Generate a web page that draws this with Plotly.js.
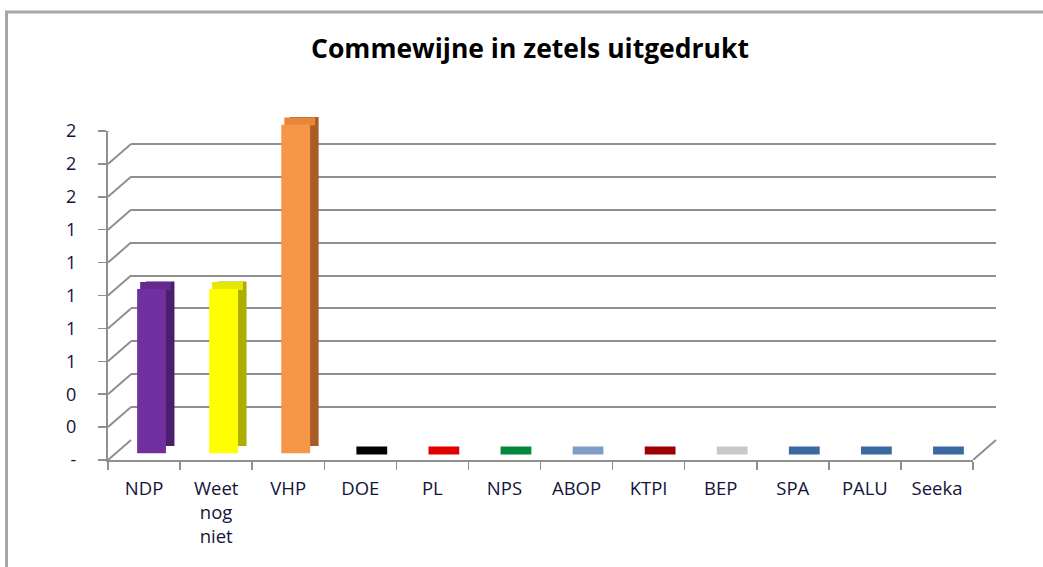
<!DOCTYPE html>
<html>
<head>
<meta charset="utf-8">
<script src="https://cdn.plot.ly/plotly-3.0.1.min.js"></script>
<style>html,body{margin:0;padding:0;background:#fff}#chart{width:1043px;height:567px}</style>
</head>
<body>
<div id="chart"></div>
<script>
// ---- data ----
const categories = ["NDP", "Weet nog niet", "VHP", "DOE", "PL", "NPS", "ABOP", "KTPI", "BEP", "SPA", "PALU", "Seeka"];
const categoryLabels = ["NDP", "Weet<br>nog<br>niet", "VHP", "DOE", "PL", "NPS", "ABOP", "KTPI", "BEP", "SPA", "PALU", "Seeka"];
const seats = [1, 1, 2, 0, 0, 0, 0, 0, 0, 0, 0, 0];
const yTickValues = [0, 0.2, 0.4, 0.6, 0.8, 1.0, 1.2, 1.4, 1.6, 1.8, 2.0];
const yTickLabels = ["-", "0", "0", "1", "1", "1", "1", "1", "2", "2", "2"];
const frontColors = ["#7030a0", "#ffff00", "#f79646", "#000000", "#e00000", "#00893c", "#7f9dc8", "#9c0000", "#c8c8c8", "#3a68a0", "#3a68a0", "#3a68a0"];
const topColors   = ["#62298f", "#e6e600", "#e8873c", "#000000", "#e00000", "#00893c", "#7f9dc8", "#9c0000", "#c8c8c8", "#3a68a0", "#3a68a0", "#3a68a0"];
const sideColors  = ["#4a1f6c", "#adad00", "#a85c27", "#000000", "#900000", "#005c28", "#56739a", "#680000", "#8c8c8c", "#274a75", "#274a75", "#274a75"];
const titleText = "Commewijne in zetels uitgedrukt";

// ---- geometry (pixels) ----
const W = 1043, H = 567;
const FRONT = {x0: 108, x1: 973, yBase: 460, yTop: 131};
const gridColor = "#8f8f8f";
function dom(dx, dy) {
  return {
    x: [(FRONT.x0 + dx) / W, (FRONT.x1 + dx) / W],
    y: [1 - (FRONT.yBase + dy) / H, 1 - (FRONT.yTop + dy) / H]
  };
}
const dBack = dom(23, -20);
const dSide = dom(16, -14);
const dTop = dom(11.5, -9.5);
const dFace = dom(7.5, -6.5);
const dFront = dom(0, 0);

const hiddenCat = d => ({domain: d, type: "category", categoryorder: "array", categoryarray: categories,
  range: [-0.5, categories.length - 0.5], visible: false, fixedrange: true});
const hiddenY = d => ({domain: d, range: [0, 2], visible: false, fixedrange: true});

const traces = [
  {type: "scatter", mode: "markers", x: categories, y: seats, xaxis: "x", yaxis: "y",
   marker: {opacity: 0}, hoverinfo: "skip", showlegend: false},
  {type: "bar", x: categories, y: seats, xaxis: "x2", yaxis: "y2", width: 0.4,
   marker: {color: sideColors, line: {width: 0}}, hoverinfo: "skip", showlegend: false},
  {type: "scatter", mode: "markers", x: categories, y: seats, xaxis: "x3", yaxis: "y3", cliponaxis: false,
   marker: {symbol: "line-ew", size: 22, color: topColors, line: {width: 8, color: topColors}},
   hoverinfo: "skip", showlegend: false},
  {type: "bar", x: categories, y: seats, xaxis: "x4", yaxis: "y4", width: 0.4,
   marker: {color: frontColors, line: {width: 0}}, hoverinfo: "skip", showlegend: false},
  {type: "scatter", mode: "markers", x: categories, y: seats, xaxis: "x5", yaxis: "y5",
   marker: {opacity: 0}, hoverinfo: "skip", showlegend: false}
];

const shapes = yTickValues.map(v => ({
  type: "line", layer: "below", xref: "paper", yref: "y5",
  xsizemode: "pixel", xanchor: FRONT.x0 / W, x0: 0, x1: 23,
  ysizemode: "pixel", yanchor: v, y0: 0, y1: 20,
  line: {color: gridColor, width: 2}
}));
shapes.push({
  type: "line", layer: "below", xref: "paper", yref: "y5",
  xsizemode: "pixel", xanchor: FRONT.x1 / W, x0: 0, x1: 23,
  ysizemode: "pixel", yanchor: 0, y0: 0, y1: 20,
  line: {color: gridColor, width: 2}
});
shapes.push({
  type: "rect", xref: "paper", yref: "paper",
  x0: 6.5 / W, x1: 1.05, y0: -0.05, y1: 1 - 12 / H,
  line: {color: "#a6a6a6", width: 3}, fillcolor: "rgba(0,0,0,0)"
});

const layout = {
  width: W, height: H,
  margin: {l: 0, r: 0, t: 0, b: 0, pad: 0},
  paper_bgcolor: "#ffffff", plot_bgcolor: "rgba(0,0,0,0)",
  showlegend: false,
  font: {family: "Open Sans, Liberation Sans, sans-serif", color: "#1a1a1a"},
  title: {text: titleText, font: {family: "Open Sans", size: 26.5, color: "#000000", weight: 700},
          x: 530 / W, xref: "paper", xanchor: "center", y: 1 - 49 / H, yref: "container", yanchor: "middle"},
  xaxis: {domain: dBack.x, type: "category", categoryorder: "array", categoryarray: categories,
          range: [-0.5, categories.length - 0.5], showgrid: false, zeroline: false, showline: false,
          showticklabels: false, ticks: "", fixedrange: true, anchor: "y"},
  yaxis: {domain: dBack.y, range: [-0.002, 2.002], tickvals: yTickValues, showgrid: true,
          gridcolor: gridColor, gridwidth: 2, zeroline: false, showline: false,
          showticklabels: false, ticks: "", fixedrange: true, anchor: "x"},
  xaxis2: Object.assign(hiddenCat(dSide.x), {anchor: "y2"}),
  yaxis2: Object.assign(hiddenY(dSide.y), {anchor: "x2"}),
  xaxis3: Object.assign(hiddenCat(dTop.x), {anchor: "y3"}),
  yaxis3: Object.assign(hiddenY(dTop.y), {anchor: "x3"}),
  xaxis4: Object.assign(hiddenCat(dFace.x), {anchor: "y4"}),
  yaxis4: Object.assign(hiddenY(dFace.y), {anchor: "x4"}),
  xaxis5: {domain: dFront.x, anchor: "y5", type: "category", categoryorder: "array", categoryarray: categories,
           range: [-0.5, categories.length - 0.5], showgrid: false, zeroline: false,
           showline: true, linecolor: gridColor, linewidth: 2,
           ticks: "outside", tickson: "boundaries", ticklen: 8, tickwidth: 1.5, tickcolor: gridColor,
           tickmode: "array", tickvals: categories, ticktext: categoryLabels,
           tickfont: {family: "Open Sans", size: 18.5, color: "#14143a"}, ticklabelstandoff: 11,
           tickangle: 0, fixedrange: true},
  yaxis5: {domain: dFront.y, anchor: "x5", range: [0, 2], showgrid: false, zeroline: false,
           showline: true, linecolor: gridColor, linewidth: 2,
           ticks: "outside", ticklen: 8, tickwidth: 1.5, tickcolor: gridColor,
           tickmode: "array", tickvals: yTickValues, ticktext: yTickLabels,
           tickfont: {family: "Open Sans", size: 18, color: "#14143a"}, ticklabelstandoff: 18,
           fixedrange: true},
  shapes: shapes
};

Plotly.newPlot("chart", traces, layout, {staticPlot: true, displayModeBar: false});
</script>
</body>
</html>
